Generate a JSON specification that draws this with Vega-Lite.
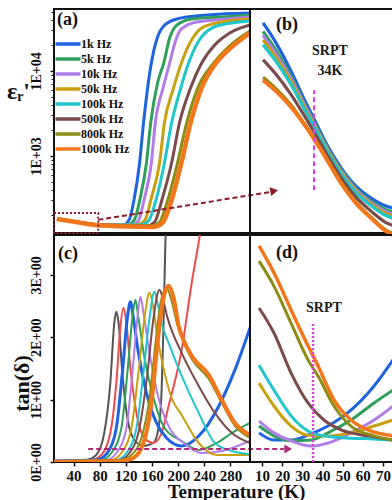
{
"$schema": "https://vega.github.io/schema/vega-lite/v6.json",
"autosize": {"type": "pad"},
"padding": {"left": 5, "top": 5, "right": 0, "bottom": 0},
"config": {
  "view": {"stroke": "#111", "strokeWidth": 2},
  "font": "Liberation Serif",
  "axis": {"labelFont": "Liberation Serif", "labelFontWeight": "bold", "labelFontSize": 15, "labelColor": "#111", "titleFont": "Liberation Serif", "titleFontWeight": "bold", "titleColor": "#111", "domain": false, "grid": false, "tickColor": "#111", "tickWidth": 1.5, "tickSize": 4, "labelOverlap": false, "labelFlush": false}
},
"datasets": {
  "a": [
    {"f":"1k Hz","T":14.6,"v":181},{"f":"1k Hz","T":43.8,"v":167},{"f":"1k Hz","T":82.3,"v":154},{"f":"1k Hz","T":116,"v":154},{"f":"1k Hz","T":125,"v":177},{"f":"1k Hz","T":133,"v":320},{"f":"1k Hz","T":141,"v":826},{"f":"1k Hz","T":147,"v":2440},{"f":"1k Hz","T":159,"v":12400},{"f":"1k Hz","T":168,"v":24400},{"f":"1k Hz","T":178,"v":33800},{"f":"1k Hz","T":198,"v":40900},{"f":"1k Hz","T":244,"v":45500},{"f":"1k Hz","T":310,"v":48100},
    {"f":"5k Hz","T":14.6,"v":181},{"f":"5k Hz","T":43.8,"v":167},{"f":"5k Hz","T":82.3,"v":154},{"f":"5k Hz","T":122,"v":154},{"f":"5k Hz","T":133,"v":177},{"f":"5k Hz","T":142,"v":320},{"f":"5k Hz","T":151.5,"v":826},{"f":"5k Hz","T":158,"v":2440},{"f":"5k Hz","T":168.5,"v":7210},{"f":"5k Hz","T":178,"v":12400},{"f":"5k Hz","T":187,"v":24400},{"f":"5k Hz","T":198,"v":34700},{"f":"5k Hz","T":221,"v":40900},{"f":"5k Hz","T":267,"v":43100},{"f":"5k Hz","T":310,"v":45500},
    {"f":"10k Hz","T":14.6,"v":181},{"f":"10k Hz","T":43.8,"v":167},{"f":"10k Hz","T":82.3,"v":154},{"f":"10k Hz","T":128.5,"v":154},{"f":"10k Hz","T":139,"v":172},{"f":"10k Hz","T":148.5,"v":320},{"f":"10k Hz","T":159,"v":826},{"f":"10k Hz","T":165,"v":2440},{"f":"10k Hz","T":177,"v":6310},{"f":"10k Hz","T":187,"v":12400},{"f":"10k Hz","T":196,"v":22500},{"f":"10k Hz","T":205,"v":31200},{"f":"10k Hz","T":228.5,"v":37700},{"f":"10k Hz","T":274.6,"v":40900},{"f":"10k Hz","T":310,"v":43100},
    {"f":"50k Hz","T":14.6,"v":181},{"f":"50k Hz","T":43.8,"v":167},{"f":"50k Hz","T":82.3,"v":154},{"f":"50k Hz","T":136,"v":154},{"f":"50k Hz","T":148.5,"v":172},{"f":"50k Hz","T":159,"v":320},{"f":"50k Hz","T":171.5,"v":826},{"f":"50k Hz","T":179,"v":2440},{"f":"50k Hz","T":193,"v":6310},{"f":"50k Hz","T":205,"v":12400},{"f":"50k Hz","T":218,"v":21300},{"f":"50k Hz","T":236,"v":32000},{"f":"50k Hz","T":267,"v":37700},{"f":"50k Hz","T":310,"v":40900},
    {"f":"100k Hz","T":14.6,"v":181},{"f":"100k Hz","T":43.8,"v":167},{"f":"100k Hz","T":82.3,"v":154},{"f":"100k Hz","T":142,"v":154},{"f":"100k Hz","T":154.6,"v":172},{"f":"100k Hz","T":167,"v":320},{"f":"100k Hz","T":179,"v":826},{"f":"100k Hz","T":190,"v":2440},{"f":"100k Hz","T":204,"v":6310},{"f":"100k Hz","T":216,"v":12400},{"f":"100k Hz","T":231.5,"v":22500},{"f":"100k Hz","T":251.5,"v":32000},{"f":"100k Hz","T":282,"v":36700},{"f":"100k Hz","T":310,"v":38700},
    {"f":"500k Hz","T":14.6,"v":181},{"f":"500k Hz","T":43.8,"v":167},{"f":"500k Hz","T":82.3,"v":154},{"f":"500k Hz","T":151.5,"v":150},{"f":"500k Hz","T":164,"v":167},{"f":"500k Hz","T":176,"v":320},{"f":"500k Hz","T":190,"v":826},{"f":"500k Hz","T":202,"v":2440},{"f":"500k Hz","T":219,"v":6310},{"f":"500k Hz","T":236,"v":12400},{"f":"500k Hz","T":256,"v":20200},{"f":"500k Hz","T":279,"v":28000},{"f":"500k Hz","T":310,"v":34700},
    {"f":"800k Hz","T":14.6,"v":181},{"f":"800k Hz","T":43.8,"v":167},{"f":"800k Hz","T":82.3,"v":154},{"f":"800k Hz","T":159,"v":150},{"f":"800k Hz","T":171.5,"v":167},{"f":"800k Hz","T":185,"v":320},{"f":"800k Hz","T":199,"v":826},{"f":"800k Hz","T":213,"v":2440},{"f":"800k Hz","T":230,"v":6310},{"f":"800k Hz","T":254.6,"v":12400},{"f":"800k Hz","T":279,"v":19700},{"f":"800k Hz","T":310,"v":29500},
    {"f":"1000k Hz","T":14.6,"v":181},{"f":"1000k Hz","T":43.8,"v":167},{"f":"1000k Hz","T":82.3,"v":152},{"f":"1000k Hz","T":162,"v":146},{"f":"1000k Hz","T":176,"v":163},{"f":"1000k Hz","T":190,"v":303},{"f":"1000k Hz","T":205,"v":826},{"f":"1000k Hz","T":219,"v":2440},{"f":"1000k Hz","T":236,"v":6310},{"f":"1000k Hz","T":258,"v":12400},{"f":"1000k Hz","T":282,"v":19100},{"f":"1000k Hz","T":310,"v":28000}
  ],
  "b": [
    {"f":"1k Hz","T":10.5,"v":182.2},{"f":"1k Hz","T":16.9,"v":178.2},{"f":"1k Hz","T":24.4,"v":172.5},{"f":"1k Hz","T":31.8,"v":166.1},{"f":"1k Hz","T":35.8,"v":162.9},{"f":"1k Hz","T":41.7,"v":158.1},{"f":"1k Hz","T":49.2,"v":153.1},{"f":"1k Hz","T":56.6,"v":149.4},{"f":"1k Hz","T":64.1,"v":147.0},{"f":"1k Hz","T":71.5,"v":145.4},{"f":"1k Hz","T":75,"v":145.0},
    {"f":"5k Hz","T":10.5,"v":180.5},{"f":"5k Hz","T":16.9,"v":176.7},{"f":"5k Hz","T":24.4,"v":171.5},{"f":"5k Hz","T":31.8,"v":165.4},{"f":"5k Hz","T":35.8,"v":162.3},{"f":"5k Hz","T":41.7,"v":157.6},{"f":"5k Hz","T":49.2,"v":152.6},{"f":"5k Hz","T":56.6,"v":148.9},{"f":"5k Hz","T":64.1,"v":146.4},{"f":"5k Hz","T":71.5,"v":144.7},{"f":"5k Hz","T":75,"v":144.2},
    {"f":"10k Hz","T":10.5,"v":179.7},{"f":"10k Hz","T":16.9,"v":176.0},{"f":"10k Hz","T":24.4,"v":171.0},{"f":"10k Hz","T":31.8,"v":165.1},{"f":"10k Hz","T":35.8,"v":162.0},{"f":"10k Hz","T":41.7,"v":157.4},{"f":"10k Hz","T":49.2,"v":152.4},{"f":"10k Hz","T":56.6,"v":148.7},{"f":"10k Hz","T":64.1,"v":146.1},{"f":"10k Hz","T":71.5,"v":144.3},{"f":"10k Hz","T":75,"v":143.8},
    {"f":"50k Hz","T":10.5,"v":178.8},{"f":"50k Hz","T":16.9,"v":175.3},{"f":"50k Hz","T":24.4,"v":170.4},{"f":"50k Hz","T":31.8,"v":164.7},{"f":"50k Hz","T":35.8,"v":161.7},{"f":"50k Hz","T":41.7,"v":157.2},{"f":"50k Hz","T":49.2,"v":152.2},{"f":"50k Hz","T":56.6,"v":148.4},{"f":"50k Hz","T":64.1,"v":145.8},{"f":"50k Hz","T":71.5,"v":143.9},{"f":"50k Hz","T":75,"v":143.4},
    {"f":"100k Hz","T":10.5,"v":177.8},{"f":"100k Hz","T":16.9,"v":174.5},{"f":"100k Hz","T":24.4,"v":169.8},{"f":"100k Hz","T":31.8,"v":164.3},{"f":"100k Hz","T":35.8,"v":161.4},{"f":"100k Hz","T":41.7,"v":156.9},{"f":"100k Hz","T":49.2,"v":151.9},{"f":"100k Hz","T":56.6,"v":148.1},{"f":"100k Hz","T":64.1,"v":145.5},{"f":"100k Hz","T":71.5,"v":143.5},{"f":"100k Hz","T":75,"v":143.0},
    {"f":"500k Hz","T":10.5,"v":174.8},{"f":"500k Hz","T":16.9,"v":171.9},{"f":"500k Hz","T":24.4,"v":167.8},{"f":"500k Hz","T":31.8,"v":163.0},{"f":"500k Hz","T":35.8,"v":160.3},{"f":"500k Hz","T":41.7,"v":156.1},{"f":"500k Hz","T":49.2,"v":151.1},{"f":"500k Hz","T":56.6,"v":147.2},{"f":"500k Hz","T":64.1,"v":144.4},{"f":"500k Hz","T":71.5,"v":142.1},{"f":"500k Hz","T":75,"v":141.5},
    {"f":"800k Hz","T":10.5,"v":171.3},{"f":"800k Hz","T":16.9,"v":169.0},{"f":"800k Hz","T":24.4,"v":165.7},{"f":"800k Hz","T":31.8,"v":161.5},{"f":"800k Hz","T":35.8,"v":159.1},{"f":"800k Hz","T":41.7,"v":155.2},{"f":"800k Hz","T":49.2,"v":150.2},{"f":"800k Hz","T":56.6,"v":146.2},{"f":"800k Hz","T":64.1,"v":143.2},{"f":"800k Hz","T":71.5,"v":140.6},{"f":"800k Hz","T":75,"v":139.9},
    {"f":"1000k Hz","T":10.5,"v":170.7},{"f":"1000k Hz","T":16.9,"v":168.5},{"f":"1000k Hz","T":24.4,"v":165.3},{"f":"1000k Hz","T":31.8,"v":161.3},{"f":"1000k Hz","T":35.8,"v":158.9},{"f":"1000k Hz","T":41.7,"v":155.1},{"f":"1000k Hz","T":49.2,"v":150.0},{"f":"1000k Hz","T":56.6,"v":146.0},{"f":"1000k Hz","T":64.1,"v":143.0},{"f":"1000k Hz","T":71.5,"v":140.4},{"f":"1000k Hz","T":75,"v":139.6}
  ],
  "c": [
    {"f":"100 Hz","T":10,"v":0.016},{"f":"100 Hz","T":59.2,"v":0.032},{"f":"100 Hz","T":74.6,"v":0.112},{"f":"100 Hz","T":86.9,"v":0.465},{"f":"100 Hz","T":96.2,"v":1.268},{"f":"100 Hz","T":102.3,"v":2.231},{"f":"100 Hz","T":105.4,"v":2.408},{"f":"100 Hz","T":108.5,"v":2.263},{"f":"100 Hz","T":114.6,"v":1.429},{"f":"100 Hz","T":122.3,"v":0.706},{"f":"100 Hz","T":133.1,"v":0.353},{"f":"100 Hz","T":146.9,"v":0.257},{"f":"100 Hz","T":162.3,"v":0.305},{"f":"100 Hz","T":170,"v":0.546},{"f":"100 Hz","T":174.6,"v":1.108},{"f":"100 Hz","T":177.7,"v":2.231},{"f":"100 Hz","T":180.8,"v":3.644},{"f":"100 Hz","T":182,"v":3.9},
    {"f":"500 Hz","T":10,"v":0.016},{"f":"500 Hz","T":66.9,"v":0.032},{"f":"500 Hz","T":82.3,"v":0.112},{"f":"500 Hz","T":96.2,"v":0.465},{"f":"500 Hz","T":105.4,"v":1.268},{"f":"500 Hz","T":111.5,"v":2.151},{"f":"500 Hz","T":116.2,"v":2.472},{"f":"500 Hz","T":120.8,"v":2.231},{"f":"500 Hz","T":126.9,"v":1.509},{"f":"500 Hz","T":136.2,"v":0.787},{"f":"500 Hz","T":148.5,"v":0.385},{"f":"500 Hz","T":162.3,"v":0.305},{"f":"500 Hz","T":174.6,"v":0.465},{"f":"500 Hz","T":185.4,"v":0.899},{"f":"500 Hz","T":205.4,"v":1.798},{"f":"500 Hz","T":220.8,"v":2.873},{"f":"500 Hz","T":233.1,"v":3.628},{"f":"500 Hz","T":236.2,"v":3.836},
    {"f":"1k Hz","T":10,"v":0.016},{"f":"1k Hz","T":74.6,"v":0.032},{"f":"1k Hz","T":91.5,"v":0.144},{"f":"1k Hz","T":105.4,"v":0.546},{"f":"1k Hz","T":114.6,"v":1.429},{"f":"1k Hz","T":122.3,"v":2.311},{"f":"1k Hz","T":126.9,"v":2.568},{"f":"1k Hz","T":131.5,"v":2.311},{"f":"1k Hz","T":139.2,"v":1.75},{"f":"1k Hz","T":151.5,"v":1.108},{"f":"1k Hz","T":166.9,"v":0.626},{"f":"1k Hz","T":182.3,"v":0.385},{"f":"1k Hz","T":205.4,"v":0.257},{"f":"1k Hz","T":231.5,"v":0.417},{"f":"1k Hz","T":262.3,"v":0.899},{"f":"1k Hz","T":286.9,"v":1.477},{"f":"1k Hz","T":310,"v":2.151},
    {"f":"5k Hz","T":10,"v":0.016},{"f":"5k Hz","T":82.3,"v":0.032},{"f":"5k Hz","T":97.7,"v":0.144},{"f":"5k Hz","T":113.1,"v":0.546},{"f":"5k Hz","T":122.3,"v":1.429},{"f":"5k Hz","T":130,"v":2.311},{"f":"5k Hz","T":134.6,"v":2.6},{"f":"5k Hz","T":139.2,"v":2.311},{"f":"5k Hz","T":148.5,"v":1.669},{"f":"5k Hz","T":162.3,"v":1.027},{"f":"5k Hz","T":179.2,"v":0.546},{"f":"5k Hz","T":205.4,"v":0.337},{"f":"5k Hz","T":231.5,"v":0.193},{"f":"5k Hz","T":259.2,"v":0.305},{"f":"5k Hz","T":282.3,"v":0.465},{"f":"5k Hz","T":310,"v":0.626},
    {"f":"10k Hz","T":10,"v":0.016},{"f":"10k Hz","T":90,"v":0.032},{"f":"10k Hz","T":105.4,"v":0.144},{"f":"10k Hz","T":120.8,"v":0.546},{"f":"10k Hz","T":130,"v":1.429},{"f":"10k Hz","T":137.7,"v":2.311},{"f":"10k Hz","T":142.3,"v":2.648},{"f":"10k Hz","T":146.9,"v":2.392},{"f":"10k Hz","T":156.2,"v":1.75},{"f":"10k Hz","T":170,"v":1.027},{"f":"10k Hz","T":186.9,"v":0.546},{"f":"10k Hz","T":208.5,"v":0.305},{"f":"10k Hz","T":236.2,"v":0.144},{"f":"10k Hz","T":266.9,"v":0.177},{"f":"10k Hz","T":310,"v":0.337},
    {"f":"50k Hz","T":10,"v":0.016},{"f":"50k Hz","T":97.7,"v":0.032},{"f":"50k Hz","T":113.1,"v":0.144},{"f":"50k Hz","T":128.5,"v":0.546},{"f":"50k Hz","T":139.2,"v":1.429},{"f":"50k Hz","T":148.5,"v":2.311},{"f":"50k Hz","T":156.2,"v":2.713},{"f":"50k Hz","T":160.8,"v":2.552},{"f":"50k Hz","T":168.5,"v":1.99},{"f":"50k Hz","T":179.2,"v":1.429},{"f":"50k Hz","T":190,"v":1.027},{"f":"50k Hz","T":205.4,"v":0.754},{"f":"50k Hz","T":231.5,"v":0.305},{"f":"50k Hz","T":259.2,"v":0.112},{"f":"50k Hz","T":310,"v":0.112},
    {"f":"100k Hz","T":10,"v":0.016},{"f":"100k Hz","T":105.4,"v":0.032},{"f":"100k Hz","T":120.8,"v":0.144},{"f":"100k Hz","T":136.2,"v":0.546},{"f":"100k Hz","T":146.9,"v":1.429},{"f":"100k Hz","T":156.2,"v":2.311},{"f":"100k Hz","T":163.8,"v":2.729},{"f":"100k Hz","T":168.5,"v":2.552},{"f":"100k Hz","T":174.6,"v":2.231},{"f":"100k Hz","T":185.4,"v":1.91},{"f":"100k Hz","T":205.4,"v":1.38},{"f":"100k Hz","T":231.5,"v":0.787},{"f":"100k Hz","T":256.2,"v":0.305},{"f":"100k Hz","T":282.3,"v":0.177},{"f":"100k Hz","T":310,"v":0.128},
    {"f":"500k Hz","T":10,"v":0.016},{"f":"500k Hz","T":110,"v":0.032},{"f":"500k Hz","T":125.4,"v":0.144},{"f":"500k Hz","T":140.8,"v":0.546},{"f":"500k Hz","T":153.1,"v":1.429},{"f":"500k Hz","T":162.3,"v":2.311},{"f":"500k Hz","T":171.5,"v":2.761},{"f":"500k Hz","T":176.2,"v":2.632},{"f":"500k Hz","T":183.8,"v":2.311},{"f":"500k Hz","T":205.4,"v":1.75},{"f":"500k Hz","T":231.5,"v":1.22},{"f":"500k Hz","T":256.2,"v":0.787},{"f":"500k Hz","T":282.3,"v":0.465},{"f":"500k Hz","T":310,"v":0.305},
    {"f":"800k Hz","T":10,"v":0.016},{"f":"800k Hz","T":113.1,"v":0.032},{"f":"800k Hz","T":128.5,"v":0.112},{"f":"800k Hz","T":143.8,"v":0.385},{"f":"800k Hz","T":156.2,"v":1.027},{"f":"800k Hz","T":165.4,"v":1.91},{"f":"800k Hz","T":173.1,"v":2.552},{"f":"800k Hz","T":182.3,"v":2.793},{"f":"800k Hz","T":190,"v":2.584},{"f":"800k Hz","T":199.2,"v":2.183},{"f":"800k Hz","T":210,"v":1.878},{"f":"800k Hz","T":220.8,"v":1.653},{"f":"800k Hz","T":246.9,"v":1.332},{"f":"800k Hz","T":266.9,"v":0.947},{"f":"800k Hz","T":286.9,"v":0.578},{"f":"800k Hz","T":310,"v":0.385},
    {"f":"1000k Hz","T":10,"v":0.005},{"f":"1000k Hz","T":113.1,"v":0.016},{"f":"1000k Hz","T":131.5,"v":0.064},{"f":"1000k Hz","T":146.9,"v":0.305},{"f":"1000k Hz","T":159.2,"v":0.947},{"f":"1000k Hz","T":168.5,"v":1.91},{"f":"1000k Hz","T":176.2,"v":2.552},{"f":"1000k Hz","T":185.4,"v":2.825},{"f":"1000k Hz","T":193.1,"v":2.632},{"f":"1000k Hz","T":200.8,"v":2.183},{"f":"1000k Hz","T":210,"v":1.91},{"f":"1000k Hz","T":220.8,"v":1.701},{"f":"1000k Hz","T":246.9,"v":1.396},{"f":"1000k Hz","T":266.9,"v":0.995},{"f":"1000k Hz","T":286.9,"v":0.626},{"f":"1000k Hz","T":310,"v":0.433}
  ],
  "d": [
    {"f":"1k Hz","T":8.5,"v":0.077},{"f":"1k Hz","T":15.9,"v":0.058},{"f":"1k Hz","T":24.4,"v":0.058},{"f":"1k Hz","T":32.8,"v":0.071},{"f":"1k Hz","T":42.7,"v":0.095},{"f":"1k Hz","T":54.1,"v":0.137},{"f":"1k Hz","T":65.6,"v":0.201},{"f":"1k Hz","T":75,"v":0.27},
    {"f":"5k Hz","T":8.5,"v":0.095},{"f":"5k Hz","T":15.9,"v":0.069},{"f":"5k Hz","T":24.4,"v":0.056},{"f":"5k Hz","T":34.3,"v":0.058},{"f":"5k Hz","T":42.7,"v":0.077},{"f":"5k Hz","T":54.1,"v":0.111},{"f":"5k Hz","T":65.6,"v":0.156},{"f":"5k Hz","T":75,"v":0.19},
    {"f":"10k Hz","T":8.5,"v":0.108},{"f":"10k Hz","T":15.9,"v":0.077},{"f":"10k Hz","T":24.4,"v":0.056},{"f":"10k Hz","T":34.3,"v":0.042},{"f":"10k Hz","T":42.7,"v":0.05},{"f":"10k Hz","T":54.1,"v":0.077},{"f":"10k Hz","T":65.6,"v":0.111},{"f":"10k Hz","T":75,"v":0.148},
    {"f":"50k Hz","T":8.5,"v":0.209},{"f":"50k Hz","T":15.9,"v":0.148},{"f":"50k Hz","T":24.4,"v":0.095},{"f":"50k Hz","T":32.8,"v":0.071},{"f":"50k Hz","T":42.7,"v":0.069},{"f":"50k Hz","T":54.1,"v":0.077},{"f":"50k Hz","T":65.6,"v":0.095},{"f":"50k Hz","T":75,"v":0.111},
    {"f":"100k Hz","T":8.5,"v":0.256},{"f":"100k Hz","T":15.9,"v":0.19},{"f":"100k Hz","T":24.4,"v":0.122},{"f":"100k Hz","T":32.8,"v":0.082},{"f":"100k Hz","T":40.7,"v":0.069},{"f":"100k Hz","T":54.1,"v":0.063},{"f":"100k Hz","T":65.6,"v":0.061},{"f":"100k Hz","T":75,"v":0.058},
    {"f":"500k Hz","T":8.5,"v":0.407},{"f":"500k Hz","T":15.9,"v":0.341},{"f":"500k Hz","T":24.4,"v":0.235},{"f":"500k Hz","T":32.8,"v":0.156},{"f":"500k Hz","T":40.7,"v":0.111},{"f":"500k Hz","T":49.2,"v":0.085},{"f":"500k Hz","T":62.6,"v":0.069},{"f":"500k Hz","T":75,"v":0.058},
    {"f":"800k Hz","T":8.5,"v":0.531},{"f":"800k Hz","T":15.9,"v":0.465},{"f":"800k Hz","T":24.4,"v":0.367},{"f":"800k Hz","T":32.8,"v":0.27},{"f":"800k Hz","T":37.8,"v":0.227},{"f":"800k Hz","T":45.7,"v":0.148},{"f":"800k Hz","T":54.1,"v":0.095},{"f":"800k Hz","T":65.6,"v":0.069},{"f":"800k Hz","T":75,"v":0.058},
    {"f":"1000k Hz","T":8.5,"v":0.571},{"f":"1000k Hz","T":15.9,"v":0.5},{"f":"1000k Hz","T":24.4,"v":0.402},{"f":"1000k Hz","T":32.8,"v":0.307},{"f":"1000k Hz","T":37.8,"v":0.254},{"f":"1000k Hz","T":45.7,"v":0.164},{"f":"1000k Hz","T":54.1,"v":0.111},{"f":"1000k Hz","T":62.6,"v":0.085},{"f":"1000k Hz","T":75,"v":0.069}
  ]
},
"columns": 2,
"spacing": {"row": 2, "column": 0},
"bounds": "flush",
"resolve": {"scale": {"color": "independent"}, "legend": {"color": "independent"}},
"concat": [
      {
        "width": 196, "height": 224,
        "resolve": {"axis": {"y": "independent"}},
        "layer": [
          {
            "data": {"name": "a"},
            "mark": {"type": "line", "interpolate": "monotone"},
            "encoding": {
              "x": {"field": "T", "type": "quantitative", "scale": {"domain": [10, 310], "nice": false}, "axis": null},
              "y": {"field": "v", "type": "quantitative", "scale": {"type": "log", "domain": [124, 53600], "nice": false},
                    "axis": {"orient": "left", "values": [1000, 10000], "tickCount": 50, "labelExpr": "datum.value == 1000 ? '1E+03' : '1E+04'", "labelAngle": 270, "labelAlign": "center", "labelBaseline": "middle", "labelPadding": 14, "labelFontSize": 14, "labelOverlap": false, "title": "εᵣ'", "titleAngle": 0, "titleX": -36, "titleY": 82, "titleAlign": "center", "titleBaseline": "middle", "titleFontSize": 24}},
              "color": {"field": "f", "type": "nominal",
                        "scale": {"domain": ["1k Hz","5k Hz","10k Hz","50k Hz","100k Hz","500k Hz","800k Hz","1000k Hz"], "range": ["#1f63e0","#2fa05a","#b27de8","#c9a010","#1fc6cc","#7b4a4a","#8c8c14","#f2761a"]},
                        "legend": {"orient": "none", "legendX": 6, "legendY": 27, "title": null, "symbolType": "M-2,0H2", "symbolSize": 156, "symbolStrokeWidth": 3.5, "labelFont": "Liberation Serif", "labelFontWeight": "bold", "labelFontSize": 12, "labelColor": "#111", "rowPadding": -1, "labelOffset": 5, "padding": 0}},
              "strokeWidth": {"condition": {"test": "datum.f === '1000k Hz'", "value": 4.5}, "value": 3}
            }
          },
          {
            "data": {"values": [{"T": 10, "T2": 77.7, "v": 124, "v2": 213}]},
            "mark": {"type": "rect", "fill": "transparent", "stroke": "#8b1c2c", "strokeDash": [2, 2], "strokeWidth": 2},
            "encoding": {"x": {"field": "T", "type": "quantitative"}, "x2": {"field": "T2"},
                         "y": {"field": "v", "type": "quantitative", "axis": {"orient": "left", "values": [200,300,400,500,600,700,800,900,2000,3000,4000,5000,6000,7000,8000,9000,20000,30000,40000,50000], "tickCount": 50, "labels": false, "title": null, "tickSize": 3, "tickWidth": 1}},
                         "y2": {"field": "v2"}}
          },
          {
            "data": {"values": [{"T": 77.7, "v": 177}, {"T": 340.8, "v": 377}]},
            "mark": {"type": "line", "color": "#8b1c2c", "strokeDash": [5, 3], "strokeWidth": 2},
            "encoding": {"x": {"field": "T", "type": "quantitative"}, "y": {"field": "v", "type": "quantitative", "axis": null}}
          },
          {
            "data": {"values": [{"T": 347, "v": 387}]},
            "mark": {"type": "point", "shape": "triangle-right", "filled": true, "color": "#8b1c2c", "size": 80, "angle": 350, "opacity": 1},
            "encoding": {"x": {"field": "T", "type": "quantitative"}, "y": {"field": "v", "type": "quantitative", "axis": null}}
          },
          {
            "data": {"values": [{"T": 14.6, "v": 39800, "t": "(a)"}]},
            "mark": {"type": "text", "align": "left", "baseline": "middle", "fontSize": 18, "fontWeight": "bold", "font": "Liberation Serif", "color": "#111"},
            "encoding": {"x": {"field": "T", "type": "quantitative"}, "y": {"field": "v", "type": "quantitative", "axis": null}, "text": {"field": "t"}}
          }
        ]
      },
      {
        "width": 143, "height": 224,
        "layer": [
          {
            "data": {"name": "b"},
            "mark": {"type": "line", "interpolate": "monotone"},
            "encoding": {
              "x": {"field": "T", "type": "quantitative", "scale": {"domain": [4, 75], "nice": false}, "axis": null},
              "y": {"field": "v", "type": "quantitative", "scale": {"domain": [140, 185], "nice": false}, "axis": null},
              "color": {"field": "f", "type": "nominal",
                        "scale": {"domain": ["1k Hz","5k Hz","10k Hz","50k Hz","100k Hz","500k Hz","800k Hz","1000k Hz"], "range": ["#1f63e0","#2fa05a","#b27de8","#c9a010","#1fc6cc","#7b4a4a","#8c8c14","#f2761a"]},
                        "legend": null},
              "strokeWidth": {"condition": {"test": "datum.f === '1000k Hz'", "value": 4}, "value": 3.2}
            }
          },
          {
            "data": {"values": [{"T": 35.8, "v": 148.6, "v2": 168.7}]},
            "mark": {"type": "rule", "color": "#e23ee6", "strokeDash": [5, 3], "strokeWidth": 2},
            "encoding": {"x": {"field": "T", "type": "quantitative"}, "y": {"field": "v", "type": "quantitative"}, "y2": {"field": "v2"}}
          },
          {
            "data": {"values": [{"T": 43.7, "v": 176.6, "t": "SRPT"}, {"T": 43.7, "v": 172.5, "t": "34K"}]},
            "mark": {"type": "text", "align": "center", "baseline": "middle", "fontSize": 14, "fontWeight": "bold", "font": "Liberation Serif", "color": "#1a1a1a"},
            "encoding": {"x": {"field": "T", "type": "quantitative"}, "y": {"field": "v", "type": "quantitative"}, "text": {"field": "t"}}
          },
          {
            "data": {"values": [{"T": 16.9, "v": 181.8, "t": "(b)"}]},
            "mark": {"type": "text", "align": "left", "baseline": "middle", "fontSize": 18, "fontWeight": "bold", "font": "Liberation Serif", "color": "#111"},
            "encoding": {"x": {"field": "T", "type": "quantitative"}, "y": {"field": "v", "type": "quantitative"}, "text": {"field": "t"}}
          }
        ]
      },
      {
        "width": 196, "height": 227,
        "layer": [
          {
            "data": {"name": "c"},
            "mark": {"type": "line", "interpolate": "monotone", "clip": true},
            "encoding": {
              "x": {"field": "T", "type": "quantitative", "scale": {"domain": [10, 310], "nice": false},
                    "axis": {"values": [40, 80, 120, 160, 200, 240, 280], "tickCount": 50, "labelOverlap": false, "labelPadding": 2, "labelBaseline": "top", "labelAngle": 0, "title": "Temperature (K)", "titleX": 182, "titleY": 35, "titleAlign": "center", "titleBaseline": "alphabetic", "titleFontSize": 19}},
              "y": {"field": "v", "type": "quantitative", "scale": {"domain": [0, 3.64], "nice": false},
                    "axis": {"values": [0, 1, 2, 3], "tickCount": 50, "labelExpr": "datum.value + 'E+00'", "labelOverlap": false, "labelAngle": 270, "labelAlign": "center", "labelBaseline": "middle", "labelPadding": 14, "labelFontSize": 14, "title": "tan(δ)", "titleAngle": 270, "titleX": -33, "titleY": 148, "titleAlign": "center", "titleBaseline": "middle", "titleFontSize": 22}},
              "color": {"field": "f", "type": "nominal",
                        "scale": {"domain": ["100 Hz","500 Hz","1k Hz","5k Hz","10k Hz","50k Hz","100k Hz","500k Hz","800k Hz","1000k Hz"], "range": ["#555555","#ee4c4c","#1f63e0","#2fa05a","#b27de8","#c9a010","#1fc6cc","#7b4a4a","#8c8c14","#f2761a"]},
                        "legend": null},
              "strokeWidth": {"condition": [{"test": "datum.f === '1000k Hz'", "value": 4}, {"test": "datum.f === '1k Hz'", "value": 3}], "value": 2}
            }
          },
          {
            "data": {"values": [{"T": 62.3, "v": 0.209}, {"T": 362.3, "v": 0.209}]},
            "mark": {"type": "line", "color": "#b0287a", "strokeDash": [5, 3], "strokeWidth": 2},
            "encoding": {"x": {"field": "T", "type": "quantitative"}, "y": {"field": "v", "type": "quantitative"}}
          },
          {
            "data": {"values": [{"T": 368.5, "v": 0.209}]},
            "mark": {"type": "point", "shape": "triangle-right", "filled": true, "color": "#b0287a", "size": 80, "opacity": 1},
            "encoding": {"x": {"field": "T", "type": "quantitative"}, "y": {"field": "v", "type": "quantitative"}}
          },
          {
            "data": {"values": [{"T": 16.2, "v": 3.34, "t": "(c)"}]},
            "mark": {"type": "text", "align": "left", "baseline": "middle", "fontSize": 18, "fontWeight": "bold", "font": "Liberation Serif", "color": "#111"},
            "encoding": {"x": {"field": "T", "type": "quantitative"}, "y": {"field": "v", "type": "quantitative"}, "text": {"field": "t"}}
          }
        ]
      },
      {
        "width": 143, "height": 227,
        "layer": [
          {
            "data": {"name": "d"},
            "mark": {"type": "line", "interpolate": "monotone"},
            "encoding": {
              "x": {"field": "T", "type": "quantitative", "scale": {"domain": [4, 75], "nice": false},
                    "axis": {"values": [10, 20, 30, 40, 50, 60, 70], "tickCount": 50, "labelOverlap": false, "labelPadding": 2, "labelBaseline": "top", "labelAngle": 0, "title": null}},
              "y": {"field": "v", "type": "quantitative", "scale": {"domain": [0, 0.6], "nice": false}, "axis": null},
              "color": {"field": "f", "type": "nominal",
                        "scale": {"domain": ["1k Hz","5k Hz","10k Hz","50k Hz","100k Hz","500k Hz","800k Hz","1000k Hz"], "range": ["#1f63e0","#2fa05a","#b27de8","#c9a010","#1fc6cc","#7b4a4a","#8c8c14","#f2761a"]},
                        "legend": null},
              "strokeWidth": {"condition": {"test": "datum.f === '1000k Hz'", "value": 3.5}, "value": 3}
            }
          },
          {
            "data": {"values": [{"T": 35.3, "v": 0, "v2": 0.367}]},
            "mark": {"type": "rule", "color": "#e23ee6", "strokeDash": [2, 2], "strokeWidth": 2.5},
            "encoding": {"x": {"field": "T", "type": "quantitative"}, "y": {"field": "v", "type": "quantitative"}, "y2": {"field": "v2"}}
          },
          {
            "data": {"values": [{"T": 40.7, "v": 0.407, "t": "SRPT"}]},
            "mark": {"type": "text", "align": "center", "baseline": "middle", "fontSize": 14, "fontWeight": "bold", "font": "Liberation Serif", "color": "#1a1a1a"},
            "encoding": {"x": {"field": "T", "type": "quantitative"}, "y": {"field": "v", "type": "quantitative"}, "text": {"field": "t"}}
          },
          {
            "data": {"values": [{"T": 16.9, "v": 0.552, "t": "(d)"}]},
            "mark": {"type": "text", "align": "left", "baseline": "middle", "fontSize": 18, "fontWeight": "bold", "font": "Liberation Serif", "color": "#111"},
            "encoding": {"x": {"field": "T", "type": "quantitative"}, "y": {"field": "v", "type": "quantitative"}, "text": {"field": "t"}}
          }
        ]
      }
]
}
